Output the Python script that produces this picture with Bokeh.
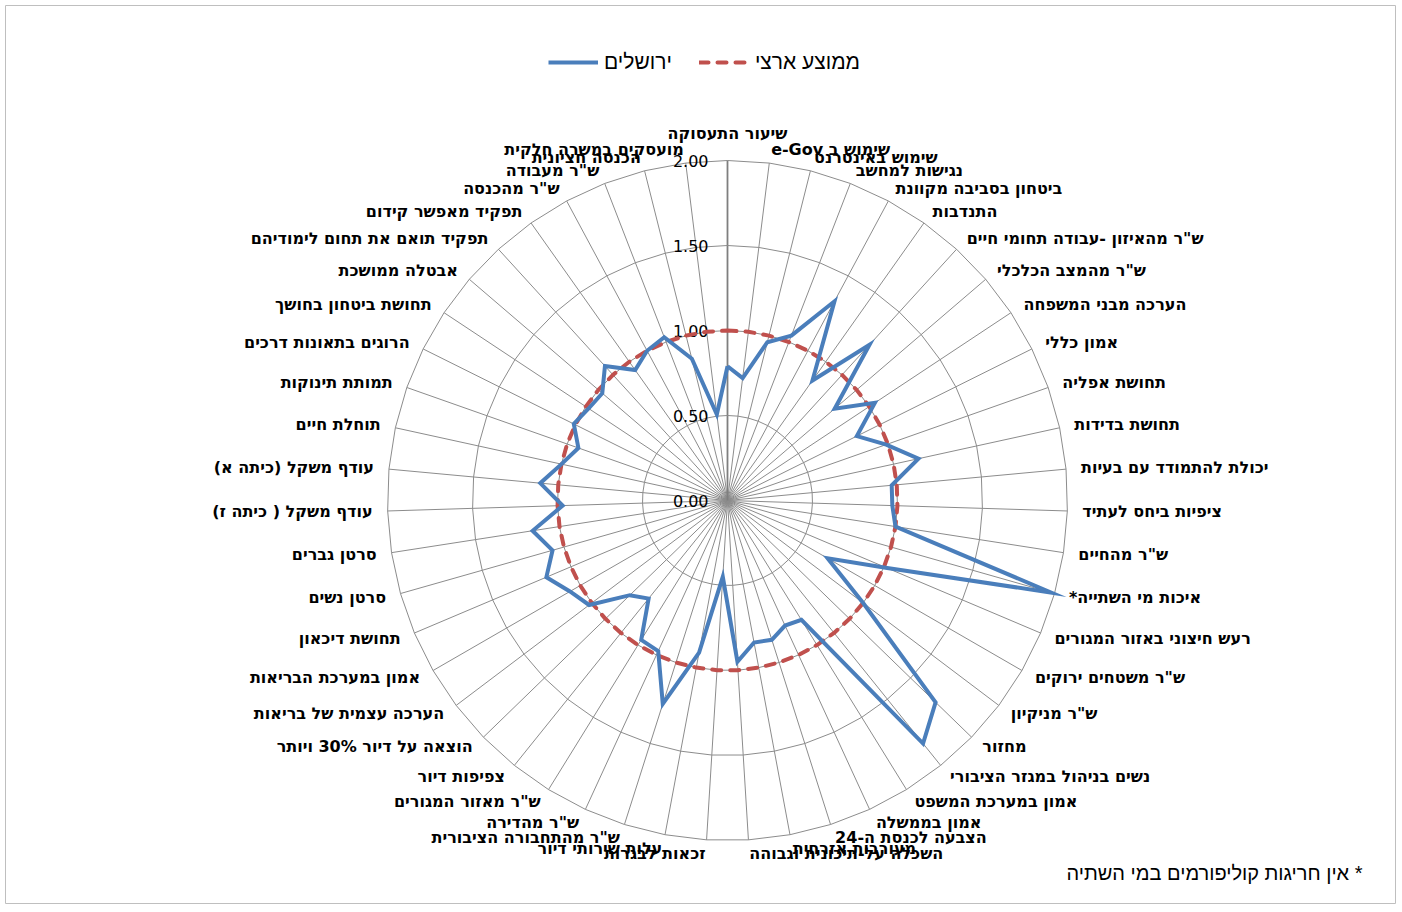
import numpy as np
from bokeh.plotting import figure
from bokeh.models import Range1d, Legend, LegendItem, Label
from bokeh.core.properties import value
from bokeh.embed import file_html
from bokeh.resources import INLINE

# ---------------- data ----------------
categories = [
    "שיעור התעסוקה", "שימוש ב e-Gov", "שימוש באינטרנט", "נגישות למחשב",
    "ביטחון בסביבה מקוונת", "התנדבות", 'ש"ר מהאיזון -עבודה תחומי חיים',
    'ש"ר מהמצב הכלכלי', "הערכה מבני המשפחה", "אמון כללי", "תחושת אפליה",
    "תחושת בדידות", "יכולת להתמודד עם בעיות", "ציפיות ביחס לעתיד",
    'ש"ר מהחיים', "איכות מי השתייה*", "רעש חיצוני באזור המגורים",
    'ש"ר משטחים ירוקים', 'ש"ר מניקיון', "מחזור", "נשים בניהול במגזר הציבורי",
    "אמון במערכת המשפט", "אמון בממשלה", "הצבעה לכנסת ה-24", "מעורבות אזרחית",
    "השכלה על-תיכונית וגבוהה", "זכאות לבגרות", "עלות שירותי דיור",
    'ש"ר מהתחבורה הציבורית', 'ש"ר מהדירה', 'ש"ר מאזור המגורים', "צפיפות דיור",
    "הוצאה על דיור 30% ויותר", "הערכה עצמית של בריאות", "אמון במערכת הבריאות",
    "תחושת דיכאון", "סרטן נשים", "סרטן גברים", "עודף משקל ( כיתה ז)",
    "עודף משקל (כיתה א)", "תוחלת חיים", "תמותת תינוקות", "הרוגים בתאונות דרכים",
    "תחושת ביטחון בחושך", "אבטלה ממושכת", "תפקיד תואם את תחום לימודיהם",
    "תפקיד מאפשר קידום", 'ש"ר מהכנסה', 'ש"ר מעבודה', "הכנסה חציונית",
    "מועסקים במשרה חלקית",
]
jerusalem = [
    0.79, 0.725, 0.96, 1.04, 1.33, 0.865, 1.24, 0.83, 1.04, 0.85,
    0.99, 1.15, 0.97, 0.97, 1.00, 1.98, 1.02, 0.68, 1.00, 1.705,
    1.835, 0.826, 0.81, 0.86, 0.85, 0.95, 0.45, 0.91, 1.256, 0.975,
    0.964, 0.74, 0.80, 1.02, 1.07, 1.157, 1.07, 1.16, 0.97, 1.106,
    1.00, 0.93, 1.01, 0.98, 0.97, 1.07, 0.94, 1.00, 1.03, 0.86,
    0.51,
]
national = [1.0] * len(categories)
ticks = [0.0, 0.5, 1.0, 1.5, 2.0]
tick_labels = ["0.00", "0.50", "1.00", "1.50", "2.00"]
series_names = ["ירושלים", "ממוצע ארצי"]
footnote = "* אין חריגות קוליפורמים במי השתיה"

# ---------------- layout ----------------
W, H = 1400, 908
B = 5                      # inset of the chart frame
FW, FH = W - 2 * B, H - 2 * B
CX, CY = 722, 495          # centre of radar in frame px (from top-left)
PX = 170.0                 # pixels per value unit
RMAX = ticks[-1]

N = len(categories)
theta = 2 * np.pi * np.arange(N) / N
sn, cs = np.sin(theta), np.cos(theta)

p = figure(width=W, height=H, output_backend="svg", toolbar_location=None,
           x_range=Range1d(-CX / PX, (FW - CX) / PX),
           y_range=Range1d(-(FH - CY) / PX, CY / PX),
           x_axis_type=None, y_axis_type=None,
           min_border_left=B, min_border_right=B, min_border_top=B, min_border_bottom=B)
p.grid.visible = False
p.outline_line_color = "#BFBFBF"
p.outline_line_width = 1
p.background_fill_color = "white"
p.border_fill_color = "white"

GRID = "#8C8C8C"
# spokes
p.segment(x0=np.zeros(N), y0=np.zeros(N), x1=RMAX * sn, y1=RMAX * cs,
          line_color=GRID, line_width=1)
# value axis (top spoke)
p.segment(x0=[0], y0=[0], x1=[0], y1=[RMAX], line_color="#7F7F7F", line_width=1.8)
# circular gridlines (polygons through the category angles)
gx, gy = [], []
for t in ticks[1:]:
    gx.append(list(t * np.append(sn, sn[0])))
    gy.append(list(t * np.append(cs, cs[0])))
p.multi_line(xs=gx, ys=gy, line_color=GRID, line_width=1)

# tick labels
p.text(x=[0] * len(ticks), y=ticks, text=tick_labels, x_offset=-19,
       text_align="right", text_baseline="middle",
       text_font=value("DejaVu Sans"), text_font_size="16px", text_color="#000000")

# series
nat = np.array(national)
jer = np.array(jerusalem)
r_nat = p.line(x=np.append(nat * sn, nat[0] * sn[0]), y=np.append(nat * cs, nat[0] * cs[0]),
               line_color="#C0504D", line_width=4, line_dash="9 9", line_cap="round")
r_jer = p.line(x=np.append(jer * sn, jer[0] * sn[0]), y=np.append(jer * cs, jer[0] * cs[0]),
               line_color="#4A7EBB", line_width=4, line_join="miter")

# category labels
lab = ["\u202B" + c + "\u202C" for c in categories]
lx = RMAX * sn
ly = RMAX * cs
xo = 15 * sn
yo = -14 * cs
yo[0] = -27
groups = {"center": [0],
          "left": [i for i in range(1, N) if sn[i] > 0],
          "right": [i for i in range(1, N) if sn[i] < 0]}
for align, idx in groups.items():
    idx = np.array(idx)
    p.text(x=lx[idx], y=ly[idx], text=[lab[i] for i in idx],
           x_offset=xo[idx], y_offset=yo[idx],
           text_align=align, text_baseline="middle",
           text_font=value("DejaVu Sans"), text_font_style="bold",
           text_font_size="16px", text_color="#000000")

# legend
legend = Legend(items=[LegendItem(label=series_names[0], renderers=[r_jer]),
                       LegendItem(label=series_names[1], renderers=[r_nat])],
                orientation="horizontal", location=(543, 829),
                glyph_width=50, glyph_height=20, label_standoff=6, spacing=27,
                padding=0, margin=0, border_line_alpha=0, background_fill_alpha=0,
                label_text_font="Liberation Sans", label_text_font_size="21px",
                label_text_color="#000000")
p.add_layout(legend)

# footnote
p.add_layout(Label(x=1357, y=31, x_units="screen", y_units="screen",
                   text="\u202B" + footnote + "\u202C", text_align="right",
                   text_baseline="middle", text_font="Liberation Sans",
                   text_font_size="20px", text_color="#000000"))

open("out.html", "w").write(file_html(p, INLINE))
